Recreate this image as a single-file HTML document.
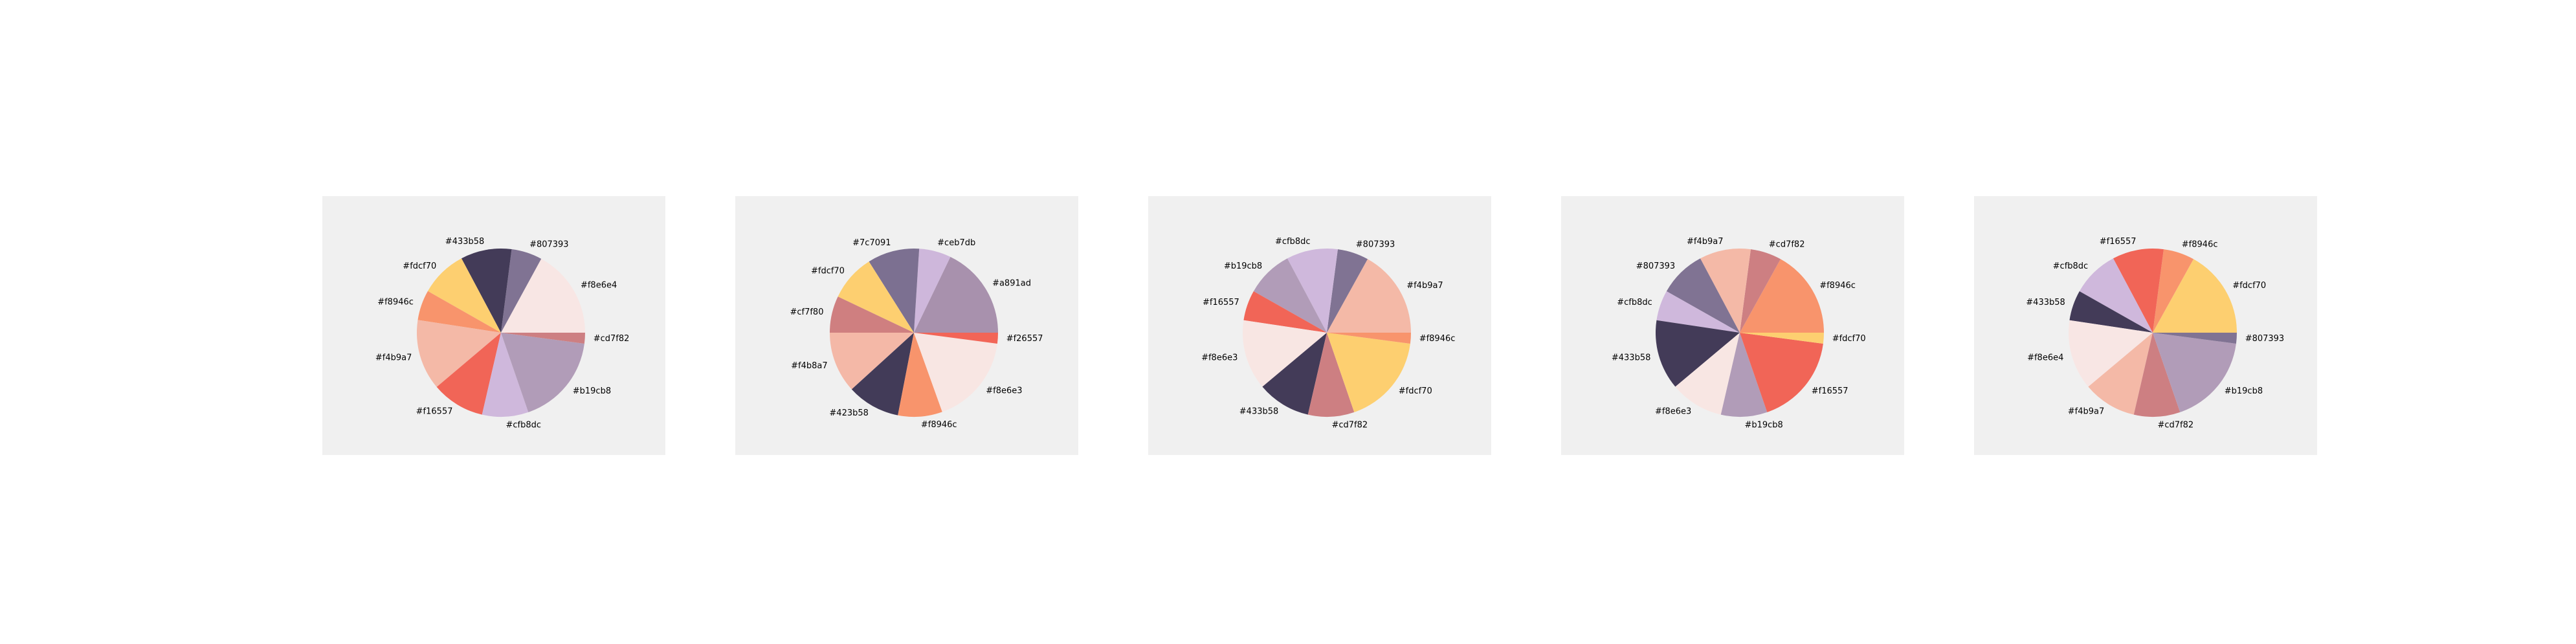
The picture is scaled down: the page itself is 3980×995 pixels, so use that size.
<!DOCTYPE html>
<html><head><meta charset="utf-8"><style>
html,body{margin:0;padding:0;background:#fff;}
svg{display:block;}
text{font-family:"DejaVu Sans","Liberation Sans",sans-serif;font-size:13px;fill:#000;}
</style></head><body>
<svg id="fig" width="3980" height="995" viewBox="0 0 3980 995" xmlns="http://www.w3.org/2000/svg"></svg>
<script>
// Slice sizes (degrees-equivalent share), counter-clockwise from east
const values1 = [61.4, 21.3, 35.3, 32.4, 20.9, 48.9, 36.8, 32, 63.5, 7.5];
const labels1 = ["#f8e6e4","#807393","#433b58","#fdcf70","#f8946c","#f4b9a7","#f16557","#cfb8dc","#b19cb8","#cd7f82"];
const values2 = [64.3, 22.1, 35.9, 32.3, 25.4, 42.3, 36.7, 30.7, 62.8, 7.5];
const labels2 = ["#a891ad","#ceb7db","#7c7091","#fdcf70","#cf7f80","#f4b8a7","#423b58","#f8946c","#f8e6e3","#f26557"];
const values3 = [61.0, 21.5, 35.5, 32.5, 21.0, 48.5, 37.0, 32.0, 63.5, 7.5];
const labels3 = ["#f4b9a7","#807393","#cfb8dc","#b19cb8","#f16557","#f8e6e3","#433b58","#cd7f82","#fdcf70","#f8946c"];
const values4 = [61.0, 21.5, 35.5, 32.5, 21.0, 48.5, 37.0, 32.0, 63.5, 7.5];
const labels4 = ["#f8946c","#cd7f82","#f4b9a7","#807393","#cfb8dc","#433b58","#f8e6e3","#b19cb8","#f16557","#fdcf70"];
const values5 = [61.0, 21.5, 35.5, 32.5, 21.0, 48.5, 37.0, 32.0, 63.5, 7.5];
const labels5 = ["#fdcf70","#f8946c","#f16557","#cfb8dc","#433b58","#f8e6e4","#f4b9a7","#cd7f82","#b19cb8","#807393"];

const panels = [[values1,labels1],[values2,labels2],[values3,labels3],[values4,labels4],[values5,labels5]];
const NS = "http://www.w3.org/2000/svg";
const svg = document.getElementById("fig");
const PX0 = 498, PSTEP = 638, PY = 303, PW = 530, PH = 400, R = 130;

panels.forEach((p, i) => {
  const [vals, labs] = p;
  const left = PX0 + i * PSTEP;
  const g = document.createElementNS(NS, "g");
  
  
  svg.appendChild(g);
  const bg = document.createElementNS(NS, "rect");
  bg.setAttribute("x", left); bg.setAttribute("y", PY);
  bg.setAttribute("width", PW); bg.setAttribute("height", PH);
  bg.setAttribute("fill", "#f0f0f0");
  
  
  g.appendChild(bg);
  const cx = left + 276, cy = PY + 211;
  const total = vals.reduce((a, b) => a + b, 0);
  let a0 = 0;
  vals.forEach((v, k) => {
    const a1 = a0 + v / total * 2 * Math.PI;
    const x0 = cx + R * Math.cos(a0), y0 = cy - R * Math.sin(a0);
    const x1 = cx + R * Math.cos(a1), y1 = cy - R * Math.sin(a1);
    const large = (a1 - a0) > Math.PI ? 1 : 0;
    const path = document.createElementNS(NS, "path");
    path.setAttribute("d", `M${cx},${cy} L${x0},${y0} A${R},${R} 0 ${large} 0 ${x1},${y1} Z`);
    path.setAttribute("fill", labs[k]);
    
    
    g.appendChild(path);
    const am = (a0 + a1) / 2;
    const lx = cx + 1.1 * R * Math.cos(am), ly = cy - 1.1 * R * Math.sin(am);
    const t = document.createElementNS(NS, "text");
    t.setAttribute("x", lx); t.setAttribute("y", ly);
    t.setAttribute("text-anchor", Math.cos(am) >= 0 ? "start" : "end");
    t.setAttribute("dominant-baseline", "central");
    t.textContent = labs[k];
    
    
    g.appendChild(t);
    a0 = a1;
  });
});
</script>
</body></html>
